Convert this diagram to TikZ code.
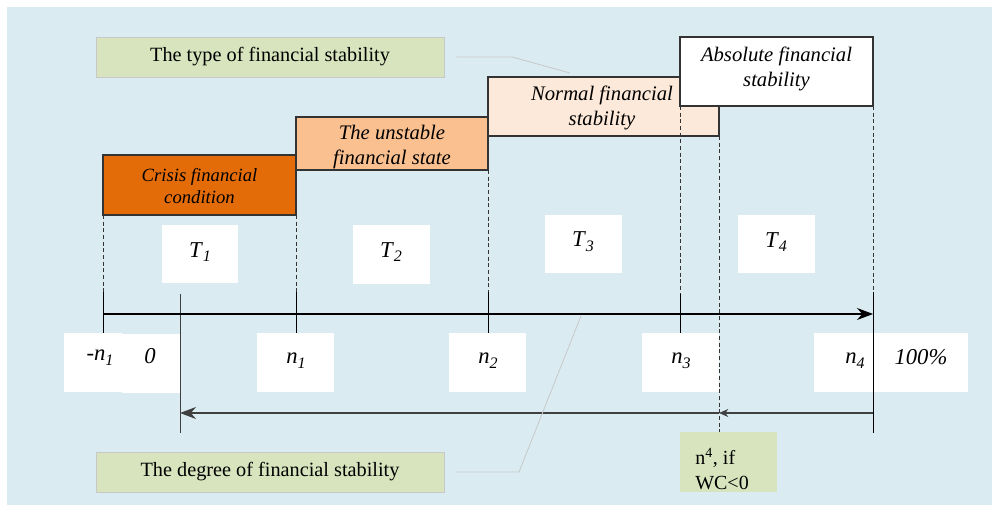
\documentclass[tikz,border=0pt]{standalone}
\usepackage{fontspec}
\setmainfont{Liberation Serif}
\usetikzlibrary{arrows.meta,fit}
\definecolor{bgblue}{HTML}{DAECF2}
\definecolor{greenbox}{HTML}{D7E4BD}
\definecolor{crisis}{HTML}{E36C09}
\definecolor{unstable}{HTML}{FAC090}
\definecolor{normalc}{HTML}{FDE9D9}
\definecolor{leader}{HTML}{C8C8C8}
\newcommand{\sbi}[2]{\textit{#1}\raisebox{-0.45ex}{\fontsize{12}{12}\selectfont\itshape #2}}
\tikzset{
  titlebox/.style={draw=leader, fill=greenbox, inner sep=0pt},
  titletext/.style={inner sep=0pt, font=\fontsize{15.2}{17}\selectfont},
  statebox/.style={draw=black!80, line width=0.8pt, inner sep=0pt},
  statetext/.style={inner sep=0pt, align=center, font=\fontsize{15.5}{18.5}\selectfont\itshape},
  whitebox/.style={fill=white, inner sep=0pt},
  guide/.style={densely dashed, line width=0.5pt, black!80},
  tick/.style={line width=0.6pt, black},
  leaderline/.style={leader, line width=0.6pt},
}
\begin{document}
\begin{tikzpicture}[x=0.75pt,y=-0.75pt]
\useasboundingbox (0,0) rectangle (992,505);
\fill[bgblue] (7,7) rectangle (992,505);
% title boxes
\node[titlebox, fit={(96,37)(444,77)}] (type) {};
\node[titletext] (typetext) at (type.center) {The type of financial stability};
\node[titlebox, fit={(96,452)(444,492)}] (degree) {};
\node[titletext] (degreetext) at (degree.center) {The degree of financial stability};
\node[titlebox, draw=none, fit={(680,432)(777,492)}] (wcbox) {};
\node[anchor=north west, align=left, inner sep=0pt, font=\fontsize{15}{19}\selectfont] (wc) at (695,448) {n\textsuperscript{4}, if\\WC<0};
% state boxes
\node[statebox, fill=crisis, fit={(103,155)(296,215)}] (crisisbox) {};
\node[statetext, font=\fontsize{14}{16.5}\selectfont\itshape] (crisistext) at (199.5,186) {Crisis financial\\condition};
\node[statebox, fill=unstable, fit={(296,117)(488,170)}] (unstablebox) {};
\node[statetext] (unstabletext) at (392,147) {The unstable\\financial state};
\node[statebox, fill=normalc, fit={(488,77)(719,136)}] (normalbox) {};
\node[statetext] (normaltext) at (602,108) {Normal financial\\stability};
\node[statebox, fill=white, fit={(680,37)(873,106)}] (absbox) {};
\node[statetext] (abstext) at (776.5,69) {Absolute financial\\stability};
% T boxes
\node[whitebox, fit={(162,225)(238,283)}] (t1box) {};
\node (t1) at (200,252) {\fontsize{17}{19}\selectfont\sbi{T}{1}};
\node[whitebox, fit={(353,225)(430,284)}] (t2box) {};
\node (t2) at (391,252) {\fontsize{17}{19}\selectfont\sbi{T}{2}};
\node[whitebox, fit={(545,215)(622,273)}] (t3box) {};
\node (t3) at (583,242) {\fontsize{17}{19}\selectfont\sbi{T}{3}};
\node[whitebox, fit={(738,215)(815,273)}] (t4box) {};
\node (t4) at (776,242) {\fontsize{17}{19}\selectfont\sbi{T}{4}};
% coordinates
\coordinate (a0) at (103,314);
\coordinate (a4) at (873,314);
\coordinate (d0) at (103,215);
\coordinate (d0b) at (103,292);
\coordinate (d0c) at (103,333);
\coordinate (d1) at (296,215);
\coordinate (d1b) at (296,292);
\coordinate (d1c) at (296,333);
\coordinate (d2) at (488,170);
\coordinate (d2b) at (488,292);
\coordinate (d2c) at (488,333);
\coordinate (d3) at (680,106);
\coordinate (d3b) at (680,294);
\coordinate (d3c) at (680,333);
\coordinate (d4) at (873,106);
\coordinate (d4b) at (873,292);
\coordinate (d4c) at (873,433);
\coordinate (w0) at (719,136);
\coordinate (w1) at (719,432);
\coordinate (z0) at (180,294);
\coordinate (z1) at (180,433);
\coordinate (b4) at (873,413);
\coordinate (bw) at (719,413);
\coordinate (b0) at (180,413);
% label boxes
\node[whitebox, fit={(64,333)(122,392)}] (mn1box) {};
\node (mn1) at (100,358) {\fontsize{17}{19}\selectfont\textit{-n}\raisebox{-0.45ex}{\fontsize{12}{12}\selectfont\itshape 1}};
\node[whitebox, fit={(122,334)(180,393)}] (zerobox) {};
\node (zero) at (150,356) {\fontsize{17}{19}\selectfont\textit{0}};
\node[whitebox, fit={(257,333)(334,392)}] (n1box) {};
\node (n1) at (296,361) {\fontsize{17}{19}\selectfont\sbi{n}{1}};
\node[whitebox, fit={(449,333)(526,392)}] (n2box) {};
\node (n2) at (488,361) {\fontsize{17}{19}\selectfont\sbi{n}{2}};
\node[whitebox, fit={(642,333)(719,392)}] (n3box) {};
\node (n3) at (681,361) {\fontsize{17}{19}\selectfont\sbi{n}{3}};
\node[whitebox, fit={(814,333)(873,392)}] (n4box) {};
\node (n4) at (855,361) {\fontsize{17}{19}\selectfont\sbi{n}{4}};
\node[whitebox, fit={(873,333)(968,392)}] (pbox) {};
\node (pct) at (921,357) {\fontsize{17}{19}\selectfont\textit{100\%}};
% guides
\draw[guide] (d0) -- (d0b);
\draw[guide] (d1) -- (d1b);
\draw[guide] (d2) -- (d2b);
\draw[guide] (d3) -- (d3b);
\draw[guide] (d4) -- (d4b);
\draw[guide] (w0) -- (w1);
\draw[tick] (d0b) -- (d0c);
\draw[tick] (d1b) -- (d1c);
\draw[tick] (d2b) -- (d2c);
\draw[tick] (d3b) -- (d3c);
\draw[tick] (d4b) -- (d4c);
\draw[tick, black!75] (z0) -- (z1);
% axis
\draw[line width=0.8pt, -{Stealth[length=12pt,width=9pt]}] (a0) -- (a4);
\draw[line width=0.8pt, black!75, -{Stealth[length=7pt,width=6pt]}] (b4) -- (bw);
\draw[line width=0.8pt, black!75, -{Stealth[length=12pt,width=9pt]}] (bw) -- (b0);
% leader lines
\coordinate (l1) at (512,57);
\coordinate (l2) at (570,73);
\draw[leaderline] (type.east) ++(12,0) -- (l1) -- (l2);
\coordinate (l3) at (519,472);
\coordinate (l4) at (581,316);
\draw[leaderline] (degree.east) ++(12,0) -- (l3) -- (l4);
\end{tikzpicture}
\end{document}
